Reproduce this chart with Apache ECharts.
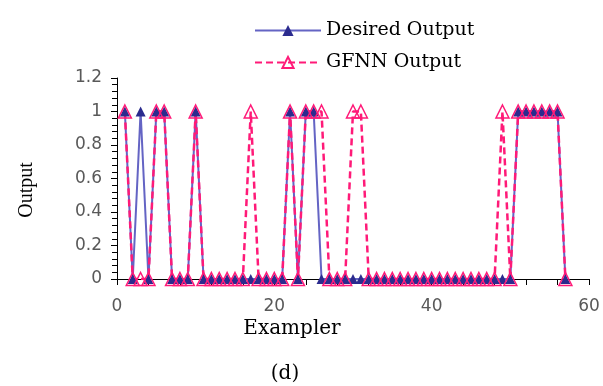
<!DOCTYPE html>
<html>
<head>
<meta charset="utf-8">
<script src="https://cdn.jsdelivr.net/npm/echarts@6/dist/echarts.min.js"></script>
<style>
  html, body { margin: 0; padding: 0; background: #fff; }
  #chart { width: 603px; height: 386px; }
</style>
</head>
<body>
<div id="chart"></div>
<script>
// exampler index (x axis)
const examplers = [
  1, 2, 3, 4, 5, 6, 7, 8, 9, 10,
  11, 12, 13, 14, 15, 16, 17, 18, 19, 20,
  21, 22, 23, 24, 25, 26, 27, 28, 29, 30,
  31, 32, 33, 34, 35, 36, 37, 38, 39, 40,
  41, 42, 43, 44, 45, 46, 47, 48, 49, 50,
  51, 52, 53, 54, 55, 56, 57
];
const desiredOutput = [
  1, 0, 1, 0, 1, 1, 0, 0, 0, 1,
  0, 0, 0, 0, 0, 0, 0, 0, 0, 0,
  0, 1, 0, 1, 1, 0, 0, 0, 0, 0,
  0, 0, 0, 0, 0, 0, 0, 0, 0, 0,
  0, 0, 0, 0, 0, 0, 0, 0, 0, 0,
  1, 1, 1, 1, 1, 1, 0
];
const gfnnOutput = [
  1, 0, 0, 0, 1, 1, 0, 0, 0, 1,
  0, 0, 0, 0, 0, 0, 1, 0, 0, 0,
  0, 1, 0, 1, 1, 1, 0, 0, 0, 1,
  1, 0, 0, 0, 0, 0, 0, 0, 0, 0,
  0, 0, 0, 0, 0, 0, 0, 0, 1, 0,
  1, 1, 1, 1, 1, 1, 0
];
const xTicks = [0, 20, 40, 60];
const yTicks = [0, 0.2, 0.4, 0.6, 0.8, 1, 1.2];

const serif = "'DejaVu Serif', serif";
const pink = "#FF1A78";
const tickFont = { fontSize: 17, color: "#595959", fontFamily: "'DejaVu Sans', sans-serif" };

const chart = echarts.init(document.getElementById("chart"));
const option = {
  animation: false,
  legend: {
    orient: "vertical",
    left: 249,
    top: 16,
    itemWidth: 66,
    itemHeight: 14,
    itemGap: 13,
    textStyle: { fontFamily: serif, fontSize: 19, color: "#000" },
    data: ["Desired Output", "GFNN Output"],
  },
  grid: { left: 117, right: 14, top: 78, bottom: 107 },
  xAxis: {
    type: "value",
    min: xTicks[0],
    max: xTicks[xTicks.length - 1],
    interval: 20,
    axisLine: { lineStyle: { color: "#000", width: 1 } },
    axisTick: { show: true, length: 6, lineStyle: { color: "#000" } },
    minorTick: { show: true, splitNumber: 5, length: 6, lineStyle: { color: "#000" } },
    axisLabel: Object.assign({ margin: 19 }, tickFont),
    splitLine: { show: false },
  },
  yAxis: {
    type: "value",
    min: yTicks[0],
    max: yTicks[yTicks.length - 1],
    interval: 0.2,
    axisLine: { show: true, lineStyle: { color: "#000", width: 1 } },
    axisTick: { show: true, length: 6, lineStyle: { color: "#000" } },
    minorTick: { show: true, splitNumber: 5, length: 5, lineStyle: { color: "#000" } },
    axisLabel: Object.assign({ margin: 15 }, tickFont),
    splitLine: { show: false },
  },
  series: [
    {
      name: "Desired Output",
      type: "line",
      data: examplers.map((x, i) => [x, desiredOutput[i]]),
      symbol: "triangle",
      symbolSize: 10,
      lineStyle: { color: "#6464C4", width: 2 },
      itemStyle: { color: "#2B2B8E" },
    },
    {
      name: "GFNN Output",
      type: "line",
      data: examplers.map((x, i) => [x, gfnnOutput[i]]),
      symbol: "triangle",
      symbolSize: 13,
      lineStyle: { color: pink, width: 2.5, type: [7, 4] },
      itemStyle: { color: "rgba(255,255,255,0)", borderColor: pink, borderWidth: 1.5 },
    },
  ],
  graphic: [
    {
      type: "text",
      x: 292,
      y: 329,
      style: { text: "Exampler", font: "20px " + serif, fill: "#000", align: "center", verticalAlign: "middle" },
    },
    {
      type: "text",
      x: 27,
      y: 190,
      rotation: Math.PI / 2,
      style: { text: "Output", font: "20px 'Liberation Serif', serif", fill: "#000", align: "center", verticalAlign: "middle" },
    },
    {
      type: "text",
      x: 285,
      y: 374,
      style: { text: "(d)", font: "20px " + serif, fill: "#000", align: "center", verticalAlign: "middle" },
    },
  ],
};
chart.setOption(option);
</script>
</body>
</html>
